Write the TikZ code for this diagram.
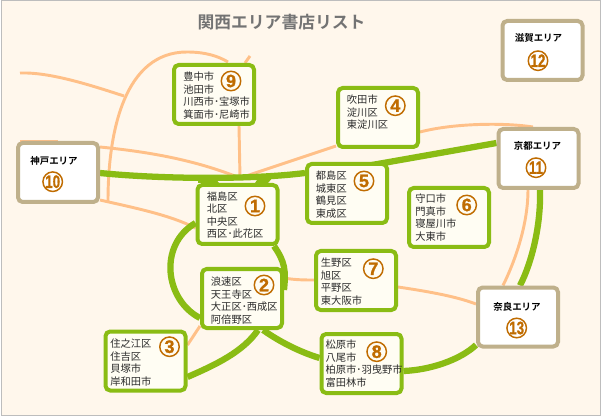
\documentclass[tikz,border=0pt]{standalone}
\usepackage{fontspec}
\setmainfont{Noto Sans CJK JP}
\newfontfamily\boldjp{Noto Sans CJK JP Bold}
\newfontfamily\numfont[FakeBold=1.2]{Liberation Sans Bold}
\usetikzlibrary{backgrounds}
\definecolor{paper}{HTML}{FFF7EC}
\definecolor{frameline}{HTML}{BDBDBD}
\definecolor{leaf}{HTML}{8ABC14}
\definecolor{tan}{HTML}{BFB08B}
\definecolor{peach}{HTML}{FFC088}
\definecolor{cream}{HTML}{FFFDF3}
\definecolor{amber}{HTML}{C06C00}
\definecolor{titlegrey}{HTML}{737373}
\definecolor{ink}{HTML}{2B2B2B}
\newcommand{\narrowtwo}[1]{\scalebox{.74}[1]{#1}}
\tikzset{
  wardbox/.style={draw=leaf,fill=cream,line width=3pt,rounded corners=3.5pt,minimum width=60pt,minimum height=44.25pt,inner sep=0pt},
  areabox/.style={draw=tan,fill=white,line width=3pt,rounded corners=3.5pt,minimum width=60pt,minimum height=44.25pt,inner sep=0pt},
  wardtext/.style={anchor=north west,align=left,inner sep=0pt,text=ink,font=\fontsize{7.7pt}{9.35pt}\selectfont},
  areatext/.style={inner sep=0pt,text=black,font=\boldjp\fontsize{7.1pt}{9pt}\selectfont},
  badge/.style={circle,draw=amber,line width=1.1pt,fill=none,minimum size=14.6pt,inner sep=0pt,text=amber,font=\numfont\fontsize{13.5pt}{13.5pt}\selectfont},
  thick link/.style={draw=leaf,line width=4.7pt},
  thin link/.style={draw=peach,line width=2.2pt},
}
\begin{document}
\begin{tikzpicture}[x=0.75pt,y=-0.75pt]
\useasboundingbox (0,0) rectangle (602,416);
% boxes
\node[wardbox] (b1) at (237.5,214.5) {};
\node[wardbox] (b2) at (242,298.5) {};
\node[wardbox] (b3) at (145.5,361) {};
\node[wardbox] (b4) at (378,117.5) {};
\node[wardbox] (b5) at (347,193.5) {};
\node[wardbox] (b6) at (449,217.5) {};
\node[wardbox] (b7) at (356,280.5) {};
\node[wardbox] (b8) at (361.5,363.5) {};
\node[wardbox] (b9) at (214,94.5) {};
\node[areabox] (b10) at (58,172.5) {};
\node[areabox] (b11) at (538.5,158.5) {};
\node[areabox] (b12) at (542.5,50.5) {};
\node[areabox] (b13) at (518,317) {};
% free ends
\coordinate (f1) at (20,73);
\coordinate (f2) at (124,96);
\coordinate (f3) at (250,56);
\coordinate (f4) at (108,201);
\coordinate (f5) at (228,62);
\coordinate (f6) at (20,141);
\coordinate (hub) at (240,178);
% texts
\node[wardtext] (t1) at (206.7,191.5) {福島区\\北区\\中央区\\西区･此花区};
\node[wardtext] (t2) at (210.7,277) {浪速区\\天王寺区\\大正区･西成区\\阿倍野区};
\node[wardtext] (t3) at (110,339) {住之江区\\住吉区\\貝塚市\\岸和田市};
\node[wardtext] (t4) at (346.7,95) {吹田市\\淀川区\\東淀川区};
\node[wardtext] (t5) at (315.7,171) {都島区\\城東区\\鶴見区\\東成区};
\node[wardtext] (t6) at (415,194) {守口市\\門真市\\寝屋川市\\大東市};
\node[wardtext] (t7) at (320.7,258) {生野区\\旭区\\平野区\\東大阪市};
\node[wardtext] (t8) at (325.3,340) {松原市\\八尾市\\柏原市･羽曳野市\\富田林市};
\node[wardtext] (t9) at (183,71.7) {豊中市\\池田市\\川西市･宝塚市\\箕面市･尼崎市};
\node[areatext] (t10) at (54,161) {神戸エリア};
\node[areatext] (t11) at (537.5,146) {京都エリア};
\node[areatext] (t12) at (538.5,38) {滋賀エリア};
\node[areatext] (t13) at (517,307) {奈良エリア};
% badges
\node[badge] (n1) at (255,206) {1};
\node[badge] (n2) at (264,285) {2};
\node[badge] (n3) at (169.5,346.7) {3};
\node[badge] (n4) at (395.3,105.7) {4};
\node[badge] (n5) at (364,181) {5};
\node[badge] (n6) at (466.7,205) {6};
\node[badge] (n7) at (373.3,268.7) {7};
\node[badge] (n8) at (376.7,351.7) {8};
\node[badge] (n9) at (231,81) {9};
\node[badge] (n10) at (52.7,181.7) {\narrowtwo{10}};
\node[badge] (n11) at (536,167.7) {\narrowtwo{11}};
\node[badge] (n12) at (538,60.7) {\narrowtwo{12}};
\node[badge] (n13) at (516.7,328) {\narrowtwo{13}};
% title
\node[inner sep=0pt,text=titlegrey,font=\boldjp\fontsize{12.6pt}{14pt}\selectfont] (title) at (281.5,22) {関西エリア書店リスト};
% paper and connectors
\begin{scope}[on background layer]
\fill[paper,draw=frameline,line width=.9pt] (1.5,0.6) rectangle (600.5,415.2);
% peach
\draw[thin link] (f1) .. controls (50,72) and (90,85) .. (f2);
\draw[thin link] (f6) -- (b10.north);
\draw[thin link] (f4) .. controls (108,130) and (125,52) .. (187,52) .. controls (205,52) and (218,56) .. (f5);
\draw[thin link] (f3) -- (245,0 |- b9.north);
\draw[thin link] (239,0 |- b9.south) -- (hub);
\draw[thin link] (b10.east |- 0,147) .. controls (150,152) and (195,160) .. (hub);
\draw[thin link] (b10.east |- 0,200) .. controls (135,208) and (170,215) .. (b1.west |- 0,228);
\draw[thin link] (hub) -- (b4.west |- 0,146);
\draw[thin link] (b4.east |- 0,132) .. controls (450,124) and (500,122) .. (533,0 |- b11.north);
\draw[thin link] (528,0 |- b11.south) .. controls (528,220) and (518,255) .. (503,0 |- b13.north);
\draw[thin link] (b2.east |- 0,278) .. controls (295,280) and (305,280) .. (b7.west |- 0,280);
\draw[thin link] (b7.east |- 0,287) .. controls (425,291) and (455,296) .. (b13.west |- 0,304);
\draw[thin link] (b3.east |- 0,345) -- (b2.west |- 0,326);
% green
\draw[thick link] (b10.east |- 0,173) .. controls (160,179) and (250,180) .. (b5.west |- 0,173);
\fill[leaf] (198,0 |- b1.north) -- (198,176) -- (214,177) -- (219,0 |- b1.north) -- cycle;
\fill[leaf] (255,0 |- b1.north) -- (259,177) -- (274,176) -- (268,0 |- b1.north) -- cycle;
\draw[thick link] ([xshift=18.75pt,yshift=-2.25pt]b5.north) -- (b11.west |- 0,143);
\draw[thick link] (b1.west |- 0,223) .. controls (158,245) and (165,300) .. (b2.west |- 0,318);
\draw[thick link] (274,0 |- b1.south) .. controls (285,262) and (286,270) .. (b2.east |- 0,290);
\draw[thick link] (258,0 |- b2.south) .. controls (243,352) and (215,365) .. (b3.east |- 0,377);
\draw[thick link] (263,0 |- b2.south) .. controls (280,342) and (300,352) .. (b8.west |- 0,358);
\draw[thick link] (b8.east |- 0,371) .. controls (430,370) and (460,360) .. (b13.west |- 0,345);
\draw[thick link] (540,0 |- b11.south) .. controls (541,225) and (532,262) .. (520,0 |- b13.north);
\end{scope}
\end{tikzpicture}
\end{document}
